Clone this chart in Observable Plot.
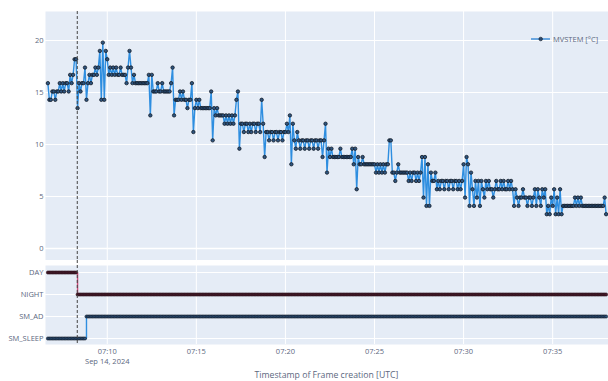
<!DOCTYPE html>
<html>
<head>
<meta charset="utf-8">
<script src="https://cdn.jsdelivr.net/npm/d3@7"></script>
<script src="https://cdn.jsdelivr.net/npm/@observablehq/plot@0.6"></script>
<style>
  html, body { margin: 0; padding: 0; background: white; }
  #wrap { position: relative; width: 608px; height: 381px; overflow: hidden; font-family: "Open Sans", sans-serif; }
  #top, #bottom { position: absolute; left: 0; }
  #top { top: 0; }
  #bottom { top: 260px; }
  #xtitle { position: absolute; left: 45px; width: 563px; top: 369px; line-height: 12px; text-align: center; font-size: 8.7px; color: #5c6880; }
  #legend { position: absolute; left: 528px; top: 29px; }
</style>
</head>
<body>
<div id="wrap">
  <div id="top"></div>
  <div id="bottom"></div>
  <div id="legend"></div>
  <div id="xtitle">Timestamp of Frame creation [UTC]</div>
</div>
<script>
// ---- Data ----
const seriesName = "MVSTEM [°C]";
const firstFrame = "2024-09-14T07:06:40Z";   // first sample
const frameStepSeconds = 5;                  // sampling interval of the frames
// MVSTEM values, one row per minute (samples every 5 s)
const mvstem = [
  /*07:06*/ 15.9, 14.3, 14.3, 15.1,
  /*07:07*/ 15.1, 14.3, 15.1, 15.1, 15.9, 15.1, 15.9, 15.1, 15.9, 15.9, 15.1, 16.7,
  /*07:08*/ 15.9, 16.7, 18.2, 18.2, 13.5, 15.9, 15.1, 15.9, 15.9, 17.4, 14.3, 15.9,
  /*07:09*/ 16.7, 15.9, 16.7, 16.7, 17.4, 16.7, 17.4, 19.0, 14.3, 19.8, 14.3, 19.0,
  /*07:10*/ 18.2, 16.7, 17.4, 16.7, 17.4, 16.7, 17.4, 16.7, 16.7, 17.4, 16.7, 16.7,
  /*07:11*/ 16.7, 15.9, 17.4, 19.0, 17.4, 15.9, 16.7, 15.9, 15.9, 15.9, 15.9, 15.9,
  /*07:12*/ 15.9, 15.9, 15.9, 15.9, 16.7, 12.8, 16.7, 15.1, 15.1, 15.1, 15.9, 15.1,
  /*07:13*/ 15.1, 15.9, 15.1, 15.1, 15.1, 15.1, 15.1, 15.9, 17.4, 12.8, 14.3, 14.3,
  /*07:14*/ 14.3, 15.1, 14.3, 15.1, 14.3, 14.3, 13.5, 14.3, 14.3, 15.9, 11.2, 13.5,
  /*07:15*/ 14.3, 13.5, 14.3, 13.5, 13.5, 13.5, 13.5, 13.5, 13.5, 13.5, 15.1, 10.4,
  /*07:16*/ 13.5, 12.8, 13.5, 12.8, 12.8, 12.8, 12.8, 12.0, 12.8, 12.0, 12.8, 12.0,
  /*07:17*/ 12.8, 12.0, 12.8, 14.3, 15.1, 9.6, 12.0, 12.0, 11.2, 12.0, 12.0, 11.2,
  /*07:18*/ 12.0, 11.2, 12.0, 12.0, 11.2, 12.0, 12.0, 11.2, 14.3, 12.0, 8.8, 11.2,
  /*07:19*/ 11.2, 10.4, 11.2, 11.2, 10.4, 11.2, 11.2, 10.4, 11.2, 11.2, 10.4, 11.2,
  /*07:20*/ 11.2, 12.0, 11.2, 12.8, 8.1, 12.0, 10.4, 9.6, 11.2, 10.4, 9.6, 10.4,
  /*07:21*/ 10.4, 9.6, 10.4, 10.4, 9.6, 10.4, 10.4, 9.6, 10.4, 10.4, 9.6, 10.4,
  /*07:22*/ 10.4, 8.8, 10.4, 12.0, 7.3, 9.6, 8.8, 9.6, 8.8, 8.8, 8.8, 8.8,
  /*07:23*/ 8.8, 9.6, 8.8, 8.8, 8.8, 8.8, 8.8, 8.8, 8.8, 9.6, 8.1, 9.6,
  /*07:24*/ 5.7, 8.8, 8.1, 8.1, 8.8, 8.1, 8.1, 8.1, 8.1, 8.1, 8.1, 8.1,
  /*07:25*/ 8.1, 7.3, 8.1, 7.3, 8.1, 7.3, 8.1, 7.3, 8.1, 8.1, 10.4, 10.4,
  /*07:26*/ 7.3, 7.3, 6.5, 7.3, 8.1, 7.3, 7.3, 7.3, 7.3, 7.3, 7.3, 6.5,
  /*07:27*/ 7.3, 6.5, 7.3, 7.3, 6.5, 7.3, 6.5, 7.3, 8.8, 4.9, 8.8, 4.1,
  /*07:28*/ 8.1, 4.1, 7.3, 6.5, 6.5, 7.3, 5.7, 6.5, 5.7, 6.5, 6.5, 5.7,
  /*07:29*/ 6.5, 6.5, 5.7, 6.5, 6.5, 5.7, 6.5, 6.5, 5.7, 6.5, 5.7, 6.5,
  /*07:30*/ 8.1, 4.9, 8.8, 8.1, 4.1, 7.3, 5.7, 4.1, 6.5, 4.9, 6.5, 4.1,
  /*07:31*/ 6.5, 5.7, 4.9, 6.5, 5.7, 6.5, 5.7, 5.7, 4.9, 5.7, 6.5, 5.7,
  /*07:32*/ 5.7, 6.5, 5.7, 6.5, 5.7, 5.7, 6.5, 5.7, 6.5, 5.7, 4.1, 5.7,
  /*07:33*/ 4.9, 4.1, 4.9, 4.9, 5.7, 4.9, 4.9, 4.1, 4.9, 4.9, 4.1, 4.9,
  /*07:34*/ 5.7, 4.1, 5.7, 4.9, 4.1, 5.7, 4.9, 5.7, 3.3, 4.1, 3.3, 4.9,
  /*07:35*/ 4.1, 5.7, 3.3, 4.9, 3.3, 5.7, 3.3, 4.1, 4.1, 4.1, 4.1, 4.1,
  /*07:36*/ 4.1, 4.1, 4.1, 4.9, 4.1, 4.9, 4.1, 4.9, 4.1, 4.1, 4.1, 4.1,
  /*07:37*/ 4.1, 4.1, 4.1, 4.1, 4.1, 4.1, 4.1, 4.1, 4.1, 4.1, 4.1, 4.9,
  /*07:38*/ 3.3
];
// State changes (time of change -> new state)
const dayNightChangeTimes = ["2024-09-14T07:06:40Z", "2024-09-14T07:08:19Z"];
const dayNightStates = ["DAY", "NIGHT"];
const smChangeTimes = ["2024-09-14T07:06:40Z", "2024-09-14T07:08:47Z"];
const smStates = ["SM_SLEEP", "SM_AD"];
const stateOrder = ["DAY", "NIGHT", "SM_AD", "SM_SLEEP"];
const markerTime = "2024-09-14T07:08:19Z";    // dashed vertical line
const xRange = ["2024-09-14T07:06:32Z", "2024-09-14T07:38:08Z"];
const xTickLabels = ["07:10", "07:15", "07:20", "07:25", "07:30", "07:35"];
const xDateLabel = "Sep 14, 2024";
const yTicks = [0, 5, 10, 15, 20];
const yRange = [-1.15, 22.79];

// ---- Build tables ----
const t0 = new Date(firstFrame).getTime();
const frames = mvstem.map((v, i) => ({ time: new Date(t0 + i * frameStepSeconds * 1000), value: v }));
function stateAt(times, states, t) {
  let s = states[0];
  times.forEach((ct, k) => { if (t >= new Date(ct)) s = states[k]; });
  return s;
}
frames.forEach(f => {
  f.dayNight = stateAt(dayNightChangeTimes, dayNightStates, f.time);
  f.sm = stateAt(smChangeTimes, smStates, f.time);
});
const xDomain = xRange.map(d => new Date(d));
const xTicks = xTickLabels.map(s => new Date(`2024-09-14T${s}:00Z`));
const fmt = d3.utcFormat("%H:%M");
const marker = [new Date(markerTime)];

const bg = "#E5ECF6";
const txt = "#5c6880";
const blue = "#2e8ee0";
const dotFill = "#2f5580";
const dotStroke = "#111a26";
const red = "#d04a7a";

const topChart = Plot.plot({
  width: 608, height: 260,
  marginLeft: 45, marginRight: 0, marginTop: 11, marginBottom: 0,
  style: { fontFamily: "Open Sans", fontSize: "7.5px", background: "white", color: txt },
  x: { type: "utc", domain: xDomain, axis: null },
  y: { domain: yRange, axis: null },
  marks: [
    Plot.frame({ fill: bg, stroke: null }),
    Plot.gridX(xTicks, { stroke: "white", strokeOpacity: 1, strokeWidth: 1 }),
    Plot.gridY(yTicks, { stroke: "white", strokeOpacity: 1, strokeWidth: 1 }),
    Plot.ruleY([0], { stroke: "white", strokeWidth: 1.6 }),
    Plot.axisY(yTicks, { tickSize: 0, tickPadding: 2, fontSize: 7.5, fill: txt, label: null }),
    Plot.line(frames, { x: "time", y: "value", stroke: blue, strokeWidth: 1.4 }),
    Plot.dot(frames, { x: "time", y: "value", r: 1.7, fill: dotFill, stroke: dotStroke, strokeWidth: 0.8 }),
    Plot.ruleX(marker, { stroke: "#444", strokeWidth: 1, strokeDasharray: "3,2" })
  ]
});
document.getElementById("top").appendChild(topChart);

const bottomChart = Plot.plot({
  width: 608, height: 121,
  marginLeft: 45, marginRight: 0, marginTop: 5, marginBottom: 37,
  style: { fontFamily: "Open Sans", fontSize: "7.5px", background: "white", color: txt },
  x: { type: "utc", domain: xDomain, axis: null },
  y: { type: "point", domain: stateOrder, padding: 0.24, axis: null },
  marks: [
    Plot.frame({ fill: bg, stroke: null }),
    Plot.gridX(xTicks, { stroke: "white", strokeOpacity: 1, strokeWidth: 1 }),
    Plot.gridY(stateOrder, { stroke: "white", strokeOpacity: 1, strokeWidth: 1 }),
    Plot.axisY(stateOrder, { tickSize: 0, tickPadding: 2, fontSize: 7.5, fill: txt, label: null }),
    Plot.axisX(xTicks, {
      tickSize: 0, tickPadding: 3, fontSize: 7.5, fill: txt, lineHeight: 1.27, label: null,
      tickFormat: d => (+d === +xTicks[0] ? fmt(d) + "\n" + xDateLabel : fmt(d))
    }),
    Plot.line(frames, { x: "time", y: "dayNight", curve: "step-after", stroke: red, strokeWidth: 1.4 }),
    Plot.dot(frames, { x: "time", y: "dayNight", r: 1.5, fill: "#4a1c2c", stroke: "#2a0f18", strokeWidth: 0.7 }),
    Plot.line(frames, { x: "time", y: "sm", curve: "step-after", stroke: blue, strokeWidth: 1.4 }),
    Plot.dot(frames, { x: "time", y: "sm", r: 1.5, fill: dotFill, stroke: dotStroke, strokeWidth: 0.7 }),
    Plot.ruleX(marker, { stroke: "#444", strokeWidth: 1, strokeDasharray: "3,2", insetTop: -5 })
  ]
});
document.getElementById("bottom").appendChild(bottomChart);

// Legend
const lg = d3.select("#legend").append("svg").attr("width", 80).attr("height", 14);
lg.append("line").attr("x1", 3).attr("x2", 22).attr("y1", 7).attr("y2", 7)
  .attr("stroke", "#6aa6e0").attr("stroke-width", 2);
lg.append("circle").attr("cx", 12.7).attr("cy", 7).attr("r", 1.8)
  .attr("fill", "#2a4a70").attr("stroke", dotStroke).attr("stroke-width", 0.6);
lg.append("text").attr("x", 25).attr("y", 7).attr("dy", "0.35em")
  .attr("font-family", "Open Sans").attr("font-size", 7.5).attr("fill", txt)
  .text(seriesName);
</script>
</body>
</html>
